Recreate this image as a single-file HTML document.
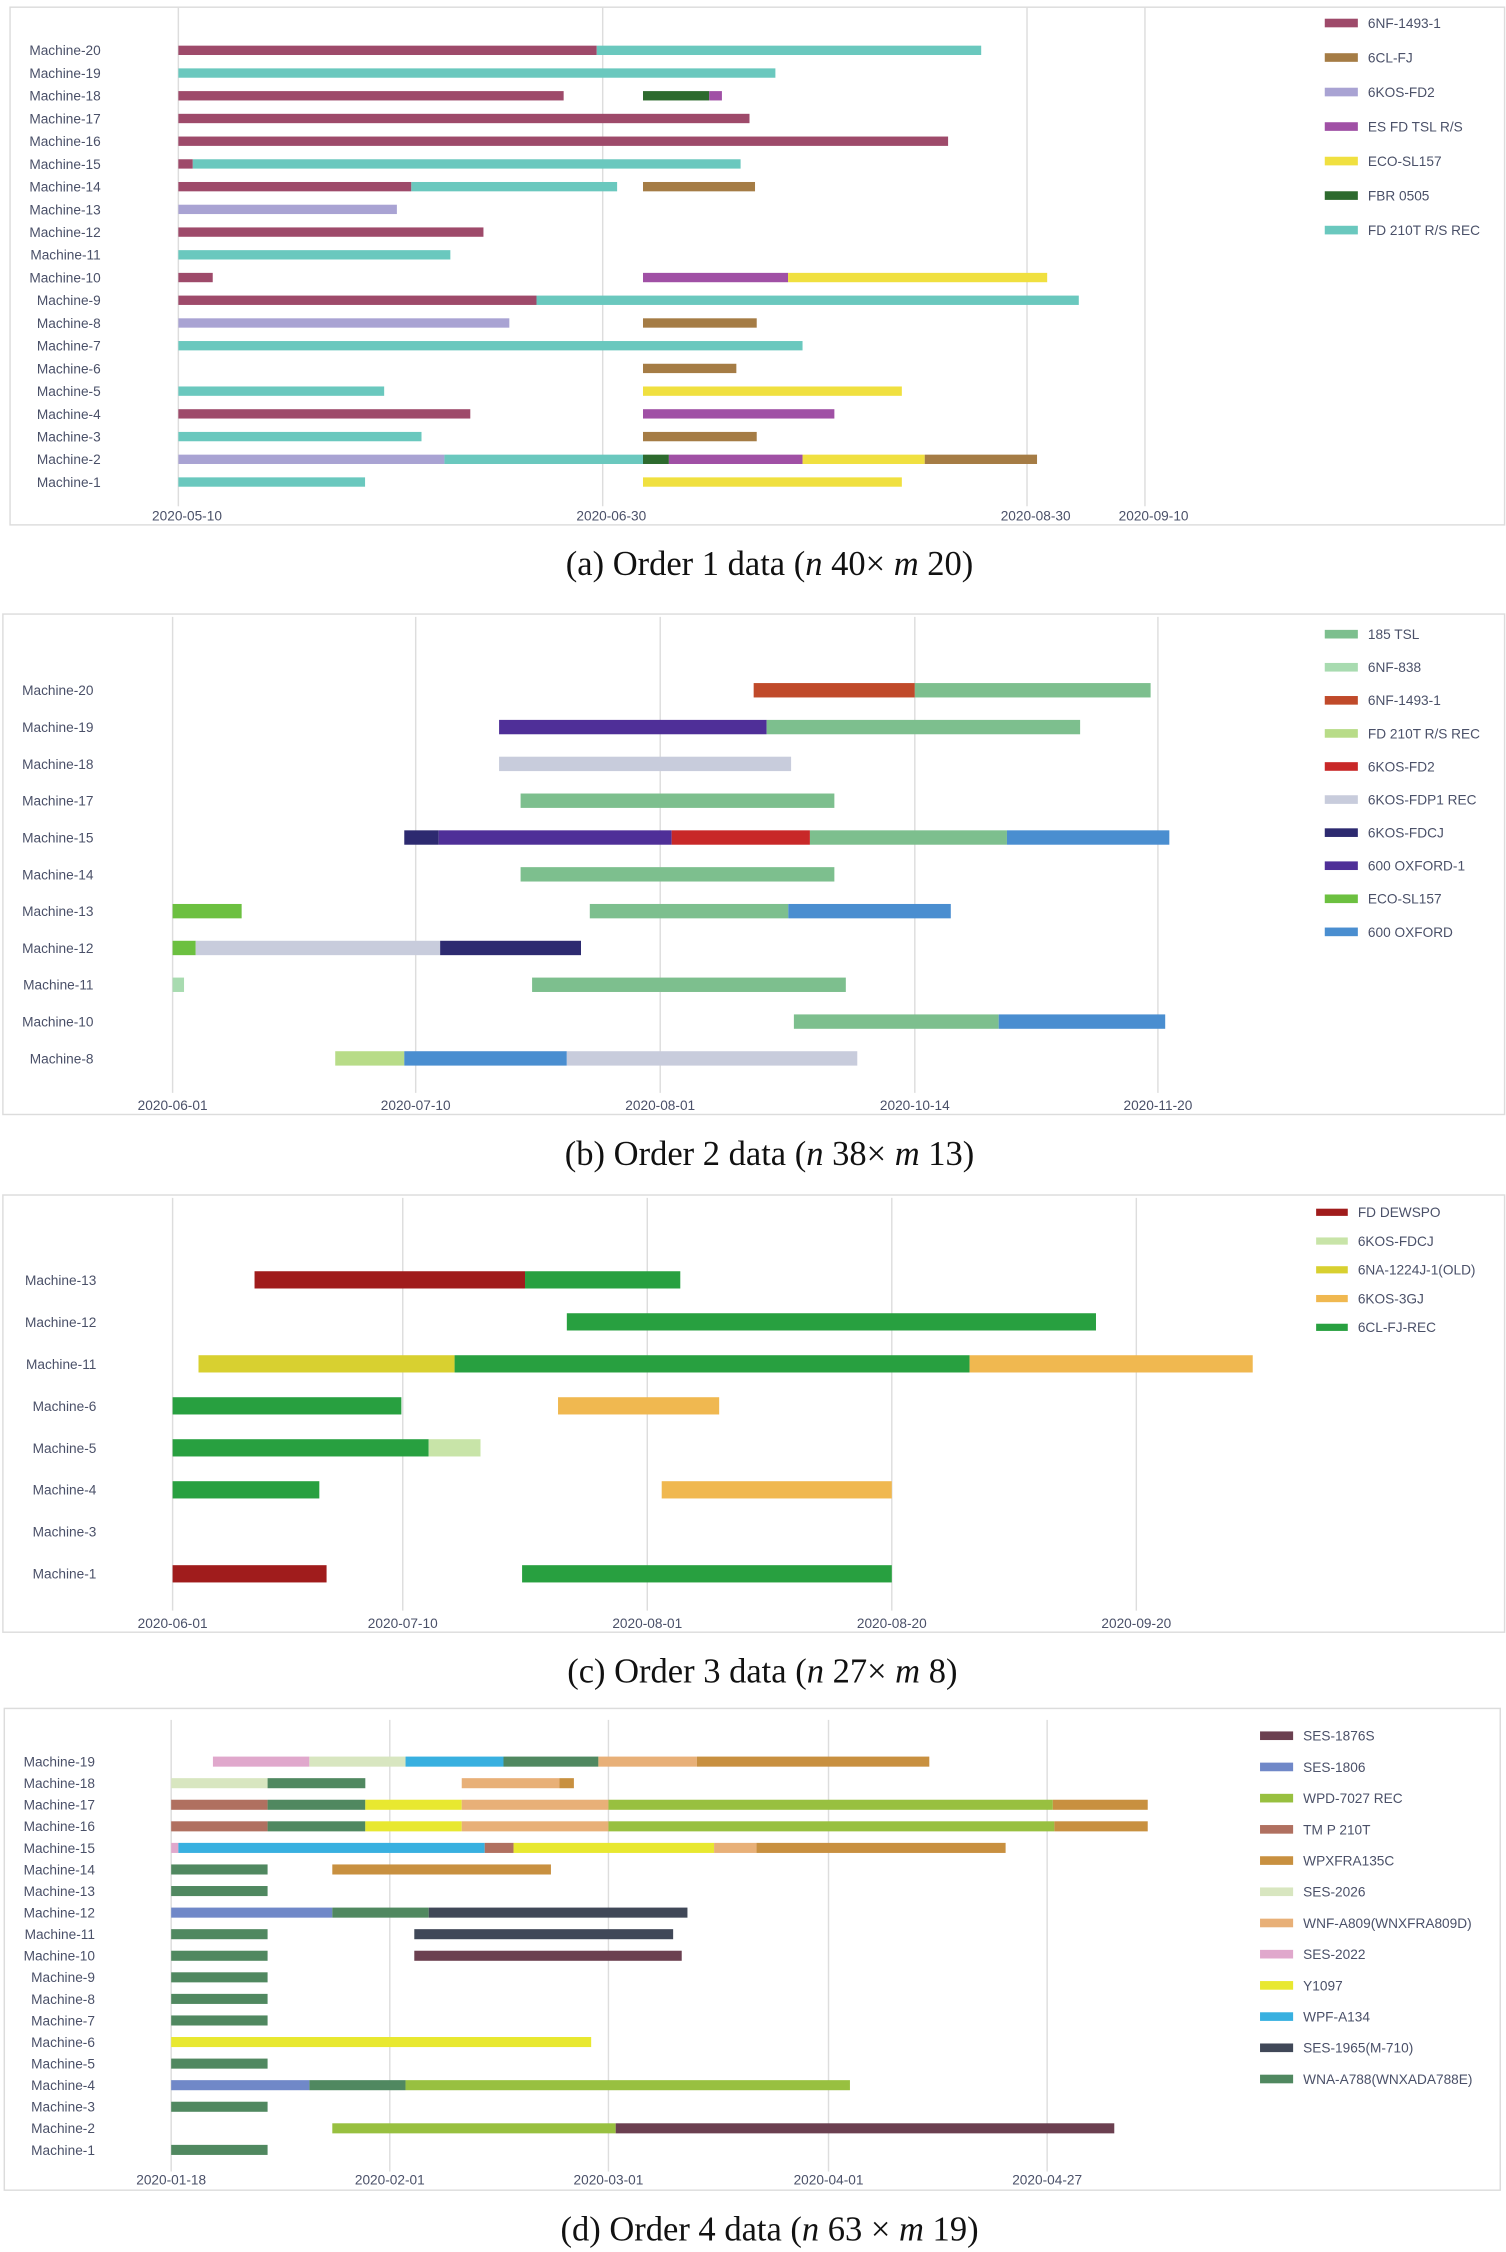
<!DOCTYPE html>
<html><head><meta charset="utf-8"><style>
html,body{margin:0;padding:0;background:#fff}
svg{display:block}
text{font-family:"Liberation Sans","DejaVu Sans",sans-serif}
.cap{font-family:"Liberation Serif",serif;font-size:24px;fill:#111}
</style></head><body>
<svg id="root" xmlns="http://www.w3.org/2000/svg" width="1506" height="2252" viewBox="0 0 1047 1566" preserveAspectRatio="none">
<text class="cap" x="535" y="400" text-anchor="middle">(a) Order 1 data (<tspan font-style="italic">n</tspan> 40×  <tspan font-style="italic">m</tspan> 20)</text>
<text class="cap" x="535" y="810" text-anchor="middle">(b) Order 2 data (<tspan font-style="italic">n</tspan> 38×  <tspan font-style="italic">m</tspan> 13)</text>
<text class="cap" x="530" y="1170" text-anchor="middle">(c) Order 3 data (<tspan font-style="italic">n</tspan> 27×  <tspan font-style="italic">m</tspan> 8)</text>
<text class="cap" x="535" y="1558" text-anchor="middle">(d) Order 4 data (<tspan font-style="italic">n</tspan> 63 × <tspan font-style="italic">m</tspan> 19)</text>
</svg>
<script>
// ===== Chart A data =====
var aCategories=["Machine-20","Machine-19","Machine-18","Machine-17","Machine-16","Machine-15","Machine-14","Machine-13","Machine-12","Machine-11","Machine-10","Machine-9","Machine-8","Machine-7","Machine-6","Machine-5","Machine-4","Machine-3","Machine-2","Machine-1"];
var aSeries=["6NF-1493-1","6CL-FJ","6KOS-FD2","ES FD TSL R/S","ECO-SL157","FBR 0505","FD 210T R/S REC"];
var aColors=["#9e4a6a","#a57c45","#a9a3d3","#a050a5","#f0e040","#2d6a2e","#6ac8be"];
var aTickLabels=["2020-05-10","2020-06-30","2020-08-30","2020-09-10"];
var aSegRow=["Machine-20","Machine-20","Machine-19","Machine-18","Machine-18","Machine-18","Machine-17","Machine-16","Machine-15","Machine-15","Machine-14","Machine-14","Machine-14","Machine-13","Machine-12","Machine-11","Machine-10","Machine-10","Machine-10","Machine-9","Machine-9","Machine-8","Machine-8","Machine-7","Machine-6","Machine-5","Machine-5","Machine-4","Machine-4","Machine-3","Machine-3","Machine-2","Machine-2","Machine-2","Machine-2","Machine-2","Machine-2","Machine-1","Machine-1"];
var aSegSeries=["6NF-1493-1","FD 210T R/S REC","FD 210T R/S REC","6NF-1493-1","FBR 0505","ES FD TSL R/S","6NF-1493-1","6NF-1493-1","6NF-1493-1","FD 210T R/S REC","6NF-1493-1","FD 210T R/S REC","6CL-FJ","6KOS-FD2","6NF-1493-1","FD 210T R/S REC","6NF-1493-1","ES FD TSL R/S","ECO-SL157","6NF-1493-1","FD 210T R/S REC","6KOS-FD2","6CL-FJ","FD 210T R/S REC","6CL-FJ","FD 210T R/S REC","ECO-SL157","6NF-1493-1","ES FD TSL R/S","FD 210T R/S REC","6CL-FJ","6KOS-FD2","FD 210T R/S REC","FBR 0505","ES FD TSL R/S","ECO-SL157","6CL-FJ","FD 210T R/S REC","ECO-SL157"];
var aStart=[0,0.986,0,0,1.095,1.251,0,0,0,0.034,0,0.549,1.095,0,0,0,0,1.095,1.437,0,0.844,0,1.095,0,1.095,0,1.095,0,1.095,0,1.095,0,0.627,1.095,1.156,1.471,1.759,0,1.095];
var aEnd=[0.986,1.892,1.407,0.908,1.251,1.281,1.346,1.814,0.034,1.325,0.549,1.034,1.359,0.515,0.719,0.641,0.081,1.437,2.171,0.844,2.439,0.78,1.363,1.471,1.315,0.485,1.705,0.688,1.546,0.573,1.363,0.627,1.095,1.156,1.471,1.759,2.085,0.44,1.705];

// ===== Chart B data =====
var bCategories=["Machine-20","Machine-19","Machine-18","Machine-17","Machine-15","Machine-14","Machine-13","Machine-12","Machine-11","Machine-10","Machine-8"];
var bSeries=["185 TSL","6NF-838","6NF-1493-1","FD 210T R/S REC","6KOS-FD2","6KOS-FDP1 REC","6KOS-FDCJ","600 OXFORD-1","ECO-SL157","600 OXFORD"];
var bColors=["#7dbf8e","#a8dbb0","#c04a2a","#b8dc88","#c82828","#c8ccdc","#2d2a70","#4f2f98","#6cc040","#4a8ed0"];
var bTickLabels=["2020-06-01","2020-07-10","2020-08-01","2020-10-14","2020-11-20"];
var bSegRow=["Machine-20","Machine-20","Machine-19","Machine-19","Machine-18","Machine-17","Machine-15","Machine-15","Machine-15","Machine-15","Machine-15","Machine-14","Machine-13","Machine-13","Machine-13","Machine-12","Machine-12","Machine-12","Machine-11","Machine-11","Machine-10","Machine-10","Machine-8","Machine-8","Machine-8"];
var bSegSeries=["6NF-1493-1","185 TSL","600 OXFORD-1","185 TSL","6KOS-FDP1 REC","185 TSL","6KOS-FDCJ","600 OXFORD-1","6KOS-FD2","185 TSL","600 OXFORD","185 TSL","ECO-SL157","185 TSL","600 OXFORD","ECO-SL157","6KOS-FDP1 REC","6KOS-FDCJ","6NF-838","185 TSL","185 TSL","600 OXFORD","FD 210T R/S REC","600 OXFORD","6KOS-FDP1 REC"];
var bStart=[2.367,3,1.341,2.418,1.341,1.429,0.953,1.094,2.045,2.588,3.379,1.429,0,1.712,2.503,0,0.095,1.100,0,1.476,2.525,3.345,0.669,0.953,1.618];
var bEnd=[3,3.97,2.418,3.68,2.514,2.684,1.094,2.045,2.588,3.379,4.047,2.684,0.284,2.503,3.148,0.095,1.100,1.676,0.047,2.729,3.345,4.03,0.953,1.618,2.774];

// ===== Chart C data =====
var cCategories=["Machine-13","Machine-12","Machine-11","Machine-6","Machine-5","Machine-4","Machine-3","Machine-1"];
var cSeries=["FD DEWSPO","6KOS-FDCJ","6NA-1224J-1(OLD)","6KOS-3GJ","6CL-FJ-REC"];
var cColors=["#a01c1c","#c8e4a8","#d8d030","#f0b850","#28a040"];
var cTickLabels=["2020-06-01","2020-07-10","2020-08-01","2020-08-20","2020-09-20"];
var cSegRow=["Machine-13","Machine-13","Machine-12","Machine-11","Machine-11","Machine-11","Machine-6","Machine-6","Machine-5","Machine-5","Machine-4","Machine-4","Machine-1","Machine-1"];
var cSegSeries=["FD DEWSPO","6CL-FJ-REC","6CL-FJ-REC","6NA-1224J-1(OLD)","6CL-FJ-REC","6KOS-3GJ","6CL-FJ-REC","6KOS-3GJ","6CL-FJ-REC","6KOS-FDCJ","6CL-FJ-REC","6KOS-3GJ","FD DEWSPO","6CL-FJ-REC"];
var cStart=[0.356,1.5,1.671,0.1125,1.212,3.318,0,1.635,0,1.106,0,2.059,0,1.488];
var cEnd=[1.5,2.135,3.835,1.212,3.318,4.476,0.994,2.294,1.106,1.318,0.6375,3.0,0.669,3.0];

// ===== Chart D data =====
var dCategories=["Machine-19","Machine-18","Machine-17","Machine-16","Machine-15","Machine-14","Machine-13","Machine-12","Machine-11","Machine-10","Machine-9","Machine-8","Machine-7","Machine-6","Machine-5","Machine-4","Machine-3","Machine-2","Machine-1"];
var dSeries=["SES-1876S","SES-1806","WPD-7027 REC","TM P 210T","WPXFRA135C","SES-2026","WNF-A809(WNXFRA809D)","SES-2022","Y1097","WPF-A134","SES-1965(M-710)","WNA-A788(WNXADA788E)"];
var dColors=["#6b4050","#7088c8","#98c040","#b07060","#c89040","#d8e6c0","#e8b078","#e0a8cc","#e8e830","#38b0e0","#404858","#508860"];
var dTickLabels=["2020-01-18","2020-02-01","2020-03-01","2020-04-01","2020-04-27"];
var dSegRow=["Machine-19","Machine-19","Machine-19","Machine-19","Machine-19","Machine-19","Machine-18","Machine-18","Machine-18","Machine-18","Machine-17","Machine-17","Machine-17","Machine-17","Machine-17","Machine-17","Machine-16","Machine-16","Machine-16","Machine-16","Machine-16","Machine-16","Machine-15","Machine-15","Machine-15","Machine-15","Machine-15","Machine-15","Machine-14","Machine-14","Machine-13","Machine-12","Machine-12","Machine-12","Machine-11","Machine-11","Machine-10","Machine-10","Machine-9","Machine-8","Machine-7","Machine-6","Machine-5","Machine-4","Machine-4","Machine-4","Machine-3","Machine-2","Machine-2","Machine-1"];
var dSegSeries=["SES-2022","SES-2026","WPF-A134","WNA-A788(WNXADA788E)","WNF-A809(WNXFRA809D)","WPXFRA135C","SES-2026","WNA-A788(WNXADA788E)","WNF-A809(WNXFRA809D)","WPXFRA135C","TM P 210T","WNA-A788(WNXADA788E)","Y1097","WNF-A809(WNXFRA809D)","WPD-7027 REC","WPXFRA135C","TM P 210T","WNA-A788(WNXADA788E)","Y1097","WNF-A809(WNXFRA809D)","WPD-7027 REC","WPXFRA135C","SES-2022","WPF-A134","TM P 210T","Y1097","WNF-A809(WNXFRA809D)","WPXFRA135C","WNA-A788(WNXADA788E)","WPXFRA135C","WNA-A788(WNXADA788E)","SES-1806","WNA-A788(WNXADA788E)","SES-1965(M-710)","WNA-A788(WNXADA788E)","SES-1965(M-710)","WNA-A788(WNXADA788E)","SES-1876S","WNA-A788(WNXADA788E)","WNA-A788(WNXADA788E)","WNA-A788(WNXADA788E)","Y1097","WNA-A788(WNXADA788E)","SES-1806","WNA-A788(WNXADA788E)","WPD-7027 REC","WNA-A788(WNXADA788E)","WPD-7027 REC","SES-1876S","WNA-A788(WNXADA788E)"];
var dStart=[0.191,0.632,1.072,1.52,1.954,2.402,0,0.441,1.329,1.776,0,0.441,0.888,1.329,2.0,4.026,0,0.441,0.888,1.329,2.0,4.033,0,0.033,1.434,1.566,2.48,2.673,0,0.737,0,0,0.737,1.178,0,1.112,0,1.112,0,0,0,0,0,0,0.632,1.072,0,0.737,2.033,0];
var dEnd=[0.632,1.072,1.52,1.954,2.402,3.461,0.441,0.888,1.776,1.842,0.441,0.888,1.329,2.0,4.026,4.46,0.441,0.888,1.329,2.0,4.033,4.46,0.033,1.434,1.566,2.48,2.673,3.81,0.441,1.737,0.441,0.737,1.178,2.359,0.441,2.294,0.441,2.333,0.441,0.441,0.441,1.921,0.441,0.632,1.072,3.098,0.441,2.033,4.307,0.441];

var NS="http://www.w3.org/2000/svg";
var root=document.getElementById('root');
function mk(tag,attrs,parent){var e=document.createElementNS(NS,tag);for(var k in attrs)e.setAttribute(k,attrs[k]);(parent||root).appendChild(e);return e;}

function drawChart(id,cfg,cats,series,colors,ticks,segRow,segSeries,segStart,segEnd){
  var g=mk('g',{});
  
  
  var frame=mk('rect',{x:cfg.box[0],y:cfg.box[1],width:cfg.box[2],height:cfg.box[3],fill:'#fff',stroke:'#dcdcdc','stroke-width':1},g);
  
  
  function xs(v){var p=cfg.tickPx;var i=Math.min(Math.max(Math.floor(v),0),p.length-2);return p[i]+(v-i)*(p[i+1]-p[i]);}
  function ys(cat){return cfg.rowY0+cats.indexOf(cat)*cfg.rowStep;}
  for(var t=0;t<ticks.length;t++){
    var gl=mk('line',{x1:xs(t),x2:xs(t),y1:cfg.gridTop,y2:cfg.gridBot,stroke:'#dddddd','stroke-width':1},g);
    
    
    var tl=mk('text',{x:xs(t)+cfg.tickDx,y:cfg.tickY,'text-anchor':'middle','font-size':cfg.fs,fill:'#4a5068'},g);
    tl.textContent=ticks[t];
    
    
  }
  for(var r=0;r<cats.length;r++){
    var lb=mk('text',{x:cfg.labelX,y:ys(cats[r])+cfg.fs*0.36,'text-anchor':'end','font-size':cfg.fs,fill:'#4a5068'},g);
    lb.textContent=cats[r];
    
    
  }
  for(var s=0;s<segRow.length;s++){
    var x1=xs(segStart[s]),x2=xs(segEnd[s]);
    var b=mk('rect',{x:x1,y:ys(segRow[s])-cfg.barH/2,width:Math.max(x2-x1,0.5),height:cfg.barH,fill:colors[series.indexOf(segSeries[s])]},g);
    
    
  }
  for(var l=0;l<series.length;l++){
    var ly=cfg.legY0+l*cfg.legStep;
    var sw=mk('rect',{x:cfg.legX,y:ly-cfg.legH/2,width:cfg.legW,height:cfg.legH,fill:colors[l]},g);
    
    
    var lt=mk('text',{x:cfg.legX+cfg.legW+7,y:ly+cfg.fs*0.36,'font-size':cfg.fs,fill:'#4a5068'},g);
    lt.textContent=series[l];
    
    
  }
}

drawChart('order1',{box:[7,5,1039,360],tickPx:[124,419,714,796],gridTop:5,gridBot:352,tickY:362,tickDx:6,rowY0:35,rowStep:15.8,barH:6.5,labelX:70,fs:9.5,legX:921,legY0:16,legStep:24,legW:23,legH:6},aCategories,aSeries,aColors,aTickLabels,aSegRow,aSegSeries,aStart,aEnd);
drawChart('order2',{box:[2,427,1044,348],tickPx:[120,289,459,636,805],gridTop:429,gridBot:760,tickY:772,tickDx:0,rowY0:480,rowStep:25.6,barH:10,labelX:65,fs:9.5,legX:921,legY0:441,legStep:23,legW:23,legH:6},bCategories,bSeries,bColors,bTickLabels,bSegRow,bSegSeries,bStart,bEnd);
drawChart('order3',{box:[2,831,1044,304],tickPx:[120,280,450,620,790],gridTop:833,gridBot:1120,tickY:1132,tickDx:0,rowY0:890,rowStep:29.2,barH:12,labelX:67,fs:9.5,legX:915,legY0:843,legStep:20,legW:22,legH:5},cCategories,cSeries,cColors,cTickLabels,cSegRow,cSegSeries,cStart,cEnd);
drawChart('order4',{box:[3,1188,1040,335],tickPx:[119,271,423,576,728],gridTop:1196,gridBot:1510,tickY:1519,tickDx:0,rowY0:1225,rowStep:15,barH:7,labelX:66,fs:9.5,legX:876,legY0:1207,legStep:21.7,legW:23,legH:6},dCategories,dSeries,dColors,dTickLabels,dSegRow,dSegSeries,dStart,dEnd);
</script>
</body></html>
